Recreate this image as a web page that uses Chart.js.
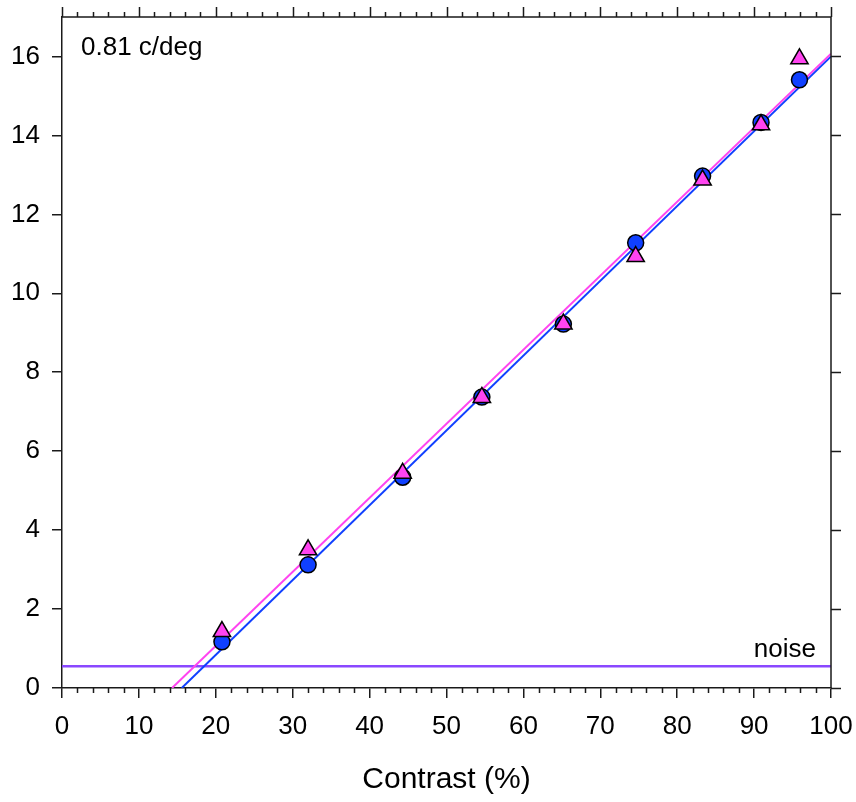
<!DOCTYPE html>
<html>
<head>
<meta charset="utf-8">
<script src="https://cdn.jsdelivr.net/npm/chart.js@4/dist/chart.umd.min.js"></script>
<style>
  html, body { margin: 0; padding: 0; background: #fff; }
  #wrap { width: 856px; height: 802px; }
</style>
</head>
<body>
<div id="wrap"><canvas id="chart" width="856" height="802"></canvas></div>
<script>
// contrast (%) at which each response was measured
const contrast = [20.8, 32.0, 44.3, 54.6, 65.2, 74.6, 83.3, 90.9, 95.9];
// circles and triangles
const circleValues = [1.17, 3.12, 5.34, 7.37, 9.22, 11.28, 12.97, 14.33, 15.41];
const triangleValues = [1.43, 3.50, 5.44, 7.36, 9.22, 10.93, 12.87, 14.27, 15.94];
// regression lines: [contrast, response] at each end
const circleFit = [[15.57, 0], [100, 16.0]];
const triangleFit = [[14.31, 0], [100, 16.07]];
const noiseLevel = 0.55;

const xTicks = [0, 10, 20, 30, 40, 50, 60, 70, 80, 90, 100];
const yTicks = [0, 2, 4, 6, 8, 10, 12, 14, 16];
const freqLabel = '0.81 c/deg';
const noiseLabel = 'noise';

const FONT = '"Liberation Sans", Arial, sans-serif';
const BLUE = '#1040ff';
const MAGENTA = '#ff44f0';
const AXIS = '#1a1a1a';

const pts = (xs, ys) => xs.map((x, i) => ({ x: x, y: ys[i] }));
const seg = arr => arr.map(p => ({ x: p[0], y: p[1] }));

// frame on the top and right, minor ticks, and the two text notes
const framePlugin = {
  id: 'frame',
  afterDraw(chart) {
    const { ctx, chartArea: a, scales } = chart;
    const xs = scales.x, ys = scales.y;
    ctx.save();
    ctx.strokeStyle = AXIS;
    ctx.lineWidth = 1.5;
    ctx.beginPath();
    ctx.moveTo(a.left, a.top);
    ctx.lineTo(a.right, a.top);
    ctx.moveTo(a.right, a.top);
    ctx.lineTo(a.right, a.bottom);
    for (let v = 0; v <= 100; v += 2) {
      const px = Math.round(xs.getPixelForValue(v)) + 0.5;
      const major = v % 10 === 0;
      ctx.moveTo(px, a.top);
      ctx.lineTo(px, a.top - (major ? 10 : 5));
      if (!major) {
        ctx.moveTo(px, a.bottom);
        ctx.lineTo(px, a.bottom + 5);
      }
    }
    yTicks.forEach(v => {
      const py = Math.round(ys.getPixelForValue(v)) + 0.5;
      ctx.moveTo(a.right, py);
      ctx.lineTo(a.right + 10, py);
    });
    ctx.stroke();

    ctx.fillStyle = '#000';
    ctx.font = '26px ' + FONT;
    ctx.textBaseline = 'alphabetic';
    ctx.textAlign = 'left';
    ctx.fillText(freqLabel, a.left + 19, a.top + 38);
    ctx.textAlign = 'right';
    ctx.fillText(noiseLabel, a.right - 15, ys.getPixelForValue(noiseLevel) - 9);
    ctx.restore();
  }
};

new Chart(document.getElementById('chart'), {
  type: 'scatter',
  data: {
    datasets: [
      {
        data: pts(contrast, triangleValues),
        pointStyle: 'triangle',
        pointRadius: 10,
        backgroundColor: MAGENTA,
        borderColor: '#000',
        borderWidth: 1.5,
        order: 0
      },
      {
        data: pts(contrast, circleValues),
        pointStyle: 'circle',
        pointRadius: 8,
        backgroundColor: BLUE,
        borderColor: '#000',
        borderWidth: 1.5,
        order: 1
      },
      {
        data: seg(triangleFit),
        showLine: true,
        pointRadius: 0,
        borderColor: MAGENTA,
        borderWidth: 2,
        order: 2
      },
      {
        data: seg(circleFit),
        showLine: true,
        pointRadius: 0,
        borderColor: BLUE,
        borderWidth: 2,
        order: 3
      },
      {
        data: [{ x: 0, y: noiseLevel }, { x: 100, y: noiseLevel }],
        showLine: true,
        pointRadius: 0,
        borderColor: '#8a48ff',
        borderWidth: 2.5,
        order: 4
      }
    ]
  },
  options: {
    responsive: false,
    animation: false,
    events: [],
    layout: { padding: { top: 17, right: 25, left: 0, bottom: 0 } },
    plugins: { legend: { display: false }, tooltip: { enabled: false } },
    scales: {
      x: {
        type: 'linear',
        min: 0,
        max: 100,
        afterBuildTicks: s => { s.ticks = xTicks.map(v => ({ value: v })); },
        afterFit: s => { s.height = 114; s.paddingLeft = 0; s.paddingRight = 0; },
        ticks: { color: '#000', font: { family: FONT, size: 26 }, padding: 13, maxRotation: 0 },
        grid: { drawOnChartArea: false, tickLength: 10, color: AXIS, lineWidth: 1.5 },
        border: { color: AXIS, width: 1.5 },
        title: {
          display: true,
          text: 'Contrast (%)',
          color: '#000',
          font: { family: FONT, size: 30 },
          padding: { top: 0, bottom: 4 }
        }
      },
      y: {
        type: 'linear',
        min: 0,
        max: 17,
        afterBuildTicks: s => { s.ticks = yTicks.map(v => ({ value: v })); },
        afterFit: s => { s.width = 62; s.paddingTop = 0; s.paddingBottom = 0; },
        ticks: { color: '#000', font: { family: FONT, size: 26 }, padding: 12 },
        grid: { drawOnChartArea: false, tickLength: 10, color: AXIS, lineWidth: 1.5 },
        border: { color: AXIS, width: 1.5 }
      }
    }
  },
  plugins: [framePlugin]
});
</script>
</body>
</html>
